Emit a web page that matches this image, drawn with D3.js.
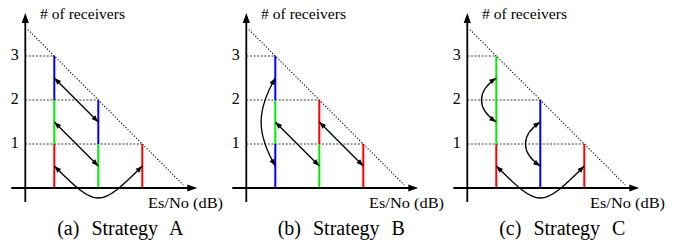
<!DOCTYPE html>
<html>
<head>
<meta charset="utf-8">
<script src="https://cdn.jsdelivr.net/npm/d3@7"></script>
<style>
body { margin: 0; background: #fff; font-family: 'Liberation Serif', serif; }
text { font-family: 'Liberation Serif', serif; }
</style>
</head>
<body>
<div id="chart"></div>
<script>
// values
var tickValues = [1, 2, 3];
var tickLabels = ["1", "2", "3"];
var barPos = [1, 2, 3];
var barHeight = [3, 2, 1];
var captions = ["(a) Strategy A", "(b) Strategy B", "(c) Strategy C"];
var yTitle = "# of receivers";
var xTitle = "Es/No (dB)";

// colour of each unit of every bar, bottom to top
var colorsA = [["red", "green", "blue"], ["green", "blue"], ["red"]];
var colorsB = [["blue", "green", "blue"], ["green", "red"], ["red"]];
var colorsC = [["red", "green", "green"], ["blue", "blue"], ["red"]];

// double arrows between unit centres
var arrowsA = [
    {from: [1, 2.5], to: [2, 1.5], bend: "none"},
    {from: [1, 1.5], to: [2, 0.5], bend: "none"},
    {from: [1, 0.5], to: [3, 0.5], bend: "down"}
];
var arrowsB = [
    {from: [1, 2.5], to: [1, 0.5], bend: "left"},
    {from: [1, 1.5], to: [2, 0.5], bend: "none"},
    {from: [2, 1.5], to: [3, 0.5], bend: "none"}
];
var arrowsC = [
    {from: [1, 2.5], to: [1, 1.5], bend: "left"},
    {from: [2, 1.5], to: [2, 0.5], bend: "left"},
    {from: [1, 0.5], to: [3, 0.5], bend: "down"}
];
var diagLine = [[0.4, 3.6], [3.93, 0.07]];

var panelColors = [colorsA, colorsB, colorsC];
var panelArrows = [arrowsA, arrowsB, arrowsC];
var palette = {red: "#ff0000", green: "#00ee00", blue: "#0000ff"};

var width = 681, height = 241;
var panelStep = 221, axisX0 = 25.3;
var yAxisValue = 0.34;

var svg = d3.select("#chart").append("svg")
    .attr("width", width)
    .attr("height", height)
    .style("display", "block");

var y = d3.scaleLinear().domain([0, 4]).range([188, 12]);

// filled arrow head with its tip at (tx,ty), coming from (fx,fy)
function head(g, tx, ty, fx, fy, len, half) {
    var dx = tx - fx, dy = ty - fy;
    var n = Math.sqrt(dx * dx + dy * dy);
    dx /= n; dy /= n;
    var bx = tx - dx * len, by = ty - dy * len;
    g.append("path")
        .attr("d", "M" + tx + "," + ty + "L" + (bx - dy * half) + "," + (by + dx * half) +
            "L" + (bx + dy * half) + "," + (by - dx * half) + "Z")
        .attr("fill", "#000");
}

panelColors.forEach(function (colors, p) {
    var ox = axisX0 + p * panelStep;
    var x = d3.scaleLinear().domain([0, 4]).range([ox - 15, ox + 161]);
    var g = svg.append("g");

    // tick labels and titles
    g.selectAll(".tick")
        .data(tickValues)
        .enter().append("text")
        .attr("x", ox - 6.5)
        .attr("y", function (d) { return y(d) + 4; })
        .attr("text-anchor", "end")
        .style("font", "16px 'Liberation Serif'")
        .text(function (d, i) { return tickLabels[i]; });
    g.append("text")
        .attr("x", ox + 14.7).attr("y", 19.3)
        .style("font", "15px 'Liberation Serif'")
        .attr("textLength", 85).attr("lengthAdjust", "spacingAndGlyphs")
        .text(yTitle);
    g.append("text")
        .attr("x", ox + 122.7).attr("y", 207.7)
        .style("font", "15px 'Liberation Serif'")
        .attr("textLength", 75).attr("lengthAdjust", "spacingAndGlyphs")
        .text(xTitle);
    g.append("text")
        .attr("x", ox + 95).attr("y", 235)
        .attr("text-anchor", "middle")
        .style("font", "20px 'Liberation Serif'")
        .style("word-spacing", "7px")
        .text(captions[p]);

    // dashed guide lines to the top of each bar
    g.selectAll(".guide")
        .data(tickValues)
        .enter().append("line")
        .attr("x1", x(yAxisValue))
        .attr("x2", function (d) { return x(barPos[barHeight.indexOf(d)]); })
        .attr("y1", function (d) { return y(d); })
        .attr("y2", function (d) { return y(d); })
        .attr("stroke", "#222")
        .attr("stroke-width", 0.9)
        .attr("stroke-dasharray", "2,1.6");

    // dotted diagonal
    g.append("path")
        .attr("d", d3.line().x(function (d) { return x(d[0]); }).y(function (d) { return y(d[1]); })(diagLine))
        .attr("fill", "none")
        .attr("stroke", "#000")
        .attr("stroke-width", 1.1)
        .attr("stroke-dasharray", "1.2,1.8");

    // bars, one segment per unit
    var segs = [];
    colors.forEach(function (col, i) {
        col.forEach(function (c, k) {
            segs.push({x: barPos[i], y0: k, y1: k + 1, c: c});
        });
    });
    g.selectAll(".seg")
        .data(segs)
        .enter().append("line")
        .attr("x1", function (d) { return x(d.x); })
        .attr("x2", function (d) { return x(d.x); })
        .attr("y1", function (d) { return y(d.y0); })
        .attr("y2", function (d) { return y(d.y1); })
        .attr("stroke", function (d) { return palette[d.c]; })
        .attr("stroke-width", 2);

    // axes with arrow heads
    g.append("line")
        .attr("x1", ox).attr("x2", ox)
        .attr("y1", 202).attr("y2", 20)
        .attr("stroke", "#000").attr("stroke-width", 1.8);
    head(g, ox, 13, ox, 30, 10, 3.6);
    g.append("line")
        .attr("x1", ox - 14).attr("x2", ox + 165)
        .attr("y1", y(0)).attr("y2", y(0))
        .attr("stroke", "#000").attr("stroke-width", 1.8);
    head(g, ox + 172, y(0), ox + 150, y(0), 10, 3.6);

    // arrows
    panelArrows[p].forEach(function (d) {
        var x0 = x(d.from[0]), y0 = y(d.from[1]);
        var x1 = x(d.to[0]), y1 = y(d.to[1]);
        var c1 = [x1, y1], c2 = [x0, y0], path;
        if (d.bend === "down") {
            var m = (d.from[0] + d.to[0]) / 2;
            var cy = y(d.from[1] - 0.97);
            c1 = [x(m - 0.03), cy];
            c2 = [x(m + 0.03), cy];
        } else if (d.bend === "left") {
            var span = d.from[1] - d.to[1];
            var pull = span > 1.5 ? 0.75 : 0.3;
            var cx = x(d.from[0] - (span > 1.5 ? 0.43 : 0.45));
            c1 = [cx, y(d.from[1] - pull)];
            c2 = [cx, y(d.to[1] + pull)];
        }
        if (d.bend === "none") {
            path = "M" + x0 + "," + y0 + "L" + x1 + "," + y1;
        } else {
            path = "M" + x0 + "," + y0 + "C" + c1[0] + "," + c1[1] + " " + c2[0] + "," + c2[1] + " " + x1 + "," + y1;
        }
        g.append("path")
            .attr("d", path)
            .attr("fill", "none")
            .attr("stroke", "#000")
            .attr("stroke-width", 1.3);
        head(g, x0, y0, c1[0], c1[1], 7, 2.6);
        head(g, x1, y1, c2[0], c2[1], 7, 2.6);
    });
});
</script>
</body>
</html>
